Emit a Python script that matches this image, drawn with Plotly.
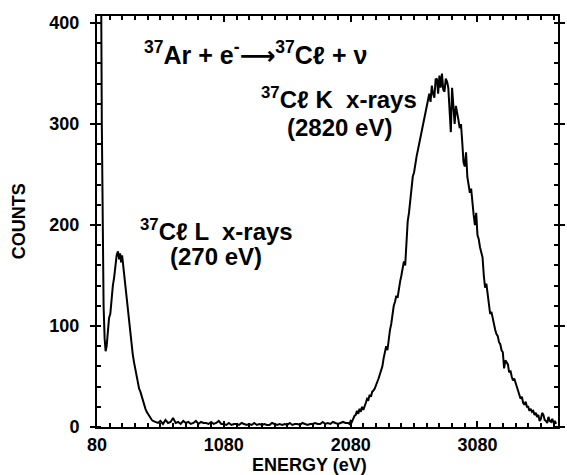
import plotly.graph_objects as go

# ---- data ----
# low-energy region: spike + Cl L x-ray peak (explicit energies, eV)
energy_low = [88, 100, 110, 118, 125, 132, 140, 148, 156, 165, 175, 185, 195, 205, 215,
              225, 235, 245, 255, 262, 270, 278, 286, 294, 302, 312, 322, 332, 342, 352,
              362, 372, 382, 392, 402, 412, 422, 432, 442, 452, 462, 472, 482, 492, 502,
              512, 522, 532]
counts_low = [900, 700, 500, 300, 180, 120, 88, 75, 80, 95, 108, 112, 130, 140, 148,
              162, 170, 174, 166, 172, 163, 170, 160, 156, 142, 130, 118, 104, 96, 82,
              72, 64, 57, 52, 44, 38, 35, 30, 26, 22, 18, 15, 13, 10, 8,
              7, 6, 5]

# flat baseline, 20 eV channels from 540 eV to 2040 eV
base_start = 540
base_step = 20
counts_base = [
    5, 4, 6, 3, 7, 4, 5, 9, 4, 5, 3, 6, 4, 5, 3, 4, 6, 3, 5, 4, 4, 3, 5, 3, 4, 6, 3,
    3, 2, 4, 2, 3, 3, 2, 4, 3, 2, 3, 2, 4, 2, 3, 2, 3, 2, 2, 4, 3, 2, 3, 2, 3,
    2, 4, 2, 3, 3, 2, 4, 3, 2, 3, 3, 4, 3, 3, 5, 3, 4, 3, 5, 4, 3, 4, 5, 4,
]

# Cl K x-ray peak, 10 eV channels from 2060 eV
k_start = 2060
k_step = 10
counts_k = [
    # 2060 - 2500
    4, 3, 6, 5, 8, 11, 12, 16, 13, 18, 15, 20, 17, 22, 24, 28, 27, 32, 30, 35,
    36, 38, 41, 45, 48, 52, 56, 60, 68, 74, 80, 76, 90, 96, 102, 112, 120, 124,
    130, 128, 138, 144, 150, 158, 164,
    # 2510 - 2700
    160, 190, 204, 212, 226, 236, 248, 252, 262, 268, 274, 280, 286, 292, 298,
    306, 312, 318, 324, 330,
    # 2710 - 2900
    322, 338, 330, 326, 344, 345, 330, 348, 336, 350, 334, 332, 345, 342, 336,
    318, 292, 336, 322, 300,
    # 2910 - 3700
    318, 312, 304, 296, 300, 282, 262, 258, 272, 248, 240, 232, 236, 218, 210,
    200, 212, 190, 186, 178, 174, 168, 150, 138, 142, 130, 120, 112, 114, 108,
    100, 96, 92, 90, 84, 82, 76, 74, 58, 66, 64, 62, 54, 56, 50, 46, 48, 44,
    40, 34, 30, 28, 30, 24, 22, 25, 20, 20, 16, 18, 15, 16, 12, 14, 10, 12,
    6, 8, 14, 12, 7, 6, 4, 10, 6, 5, 8, 4, 6, 3,
]

energy_base = [base_start + base_step * i for i in range(len(counts_base))]
energy_k = [k_start + k_step * i for i in range(len(counts_k))]

energy = energy_low + energy_base + energy_k
counts = counts_low + counts_base + counts_k

x_ticks = [80, 1080, 2080, 3080]
y_ticks = [0, 100, 200, 300, 400]

FONT = "Liberation Sans, Arial, DejaVu Sans, sans-serif"

fig = go.Figure()
fig.add_trace(go.Scatter(x=energy, y=counts, mode="lines",
                         line=dict(color="black", width=2),
                         hoverinfo="skip", showlegend=False, cliponaxis=True))

axis_common = dict(
    showgrid=False, zeroline=False, showline=True, linecolor="black", linewidth=2,
    mirror="ticks", tickwidth=2, tickcolor="black",
    tickfont=dict(family=FONT, size=18, color="black", weight="bold"),
)

fig.update_xaxes(range=[80, 3715], tickvals=x_ticks, ticktext=[str(v) for v in x_ticks],
                 ticks="inside", ticklen=6,
                 minor=dict(dtick=100, tick0=80, ticks="inside", ticklen=4,
                            tickwidth=1.5, tickcolor="black"),
                 **axis_common)
fig.update_yaxes(range=[0, 407], tickvals=y_ticks, ticktext=[str(v) for v in y_ticks],
                 ticks="outside", ticklen=5, ticklabelstandoff=7,
                 minor=dict(dtick=20, tick0=0, ticks="inside", ticklen=4,
                            tickwidth=1.5, tickcolor="black"),
                 **axis_common)

ann_font = dict(family=FONT, size=24, color="black", weight="bold")
annotations = [
    dict(x=0.344, y=0.910,
         text="<sup>37</sup>Ar + e<sup>-</sup>\u27f6<sup>37</sup>C\u2113 + \u03bd",
         font=dict(family=FONT, size=25, color="black", weight="bold")),
    dict(x=0.524, y=0.800, text="<sup>37</sup>C\u2113 K  x-rays", font=ann_font),
    dict(x=0.526, y=0.728, text="(2820 eV)", font=ann_font),
    dict(x=0.259, y=0.479, text="<sup>37</sup>C\u2113 L  x-rays", font=ann_font),
    dict(x=0.259, y=0.416, text="(270 eV)", font=ann_font),
    dict(x=0.4615, y=-0.093, text="ENERGY (eV)",
         font=dict(family=FONT, size=18, color="black", weight="bold")),
    dict(x=-0.169, y=0.501, text="COUNTS", textangle=-90,
         font=dict(family=FONT, size=18, color="black", weight="bold")),
]
for a in annotations:
    fig.add_annotation(xref="paper", yref="paper", showarrow=False,
                       xanchor="center", yanchor="middle", **a)

fig.update_layout(
    width=567, height=475,
    margin=dict(l=97, r=2, t=16, b=48),
    paper_bgcolor="white", plot_bgcolor="white",
)

fig.write_html("out.html")
